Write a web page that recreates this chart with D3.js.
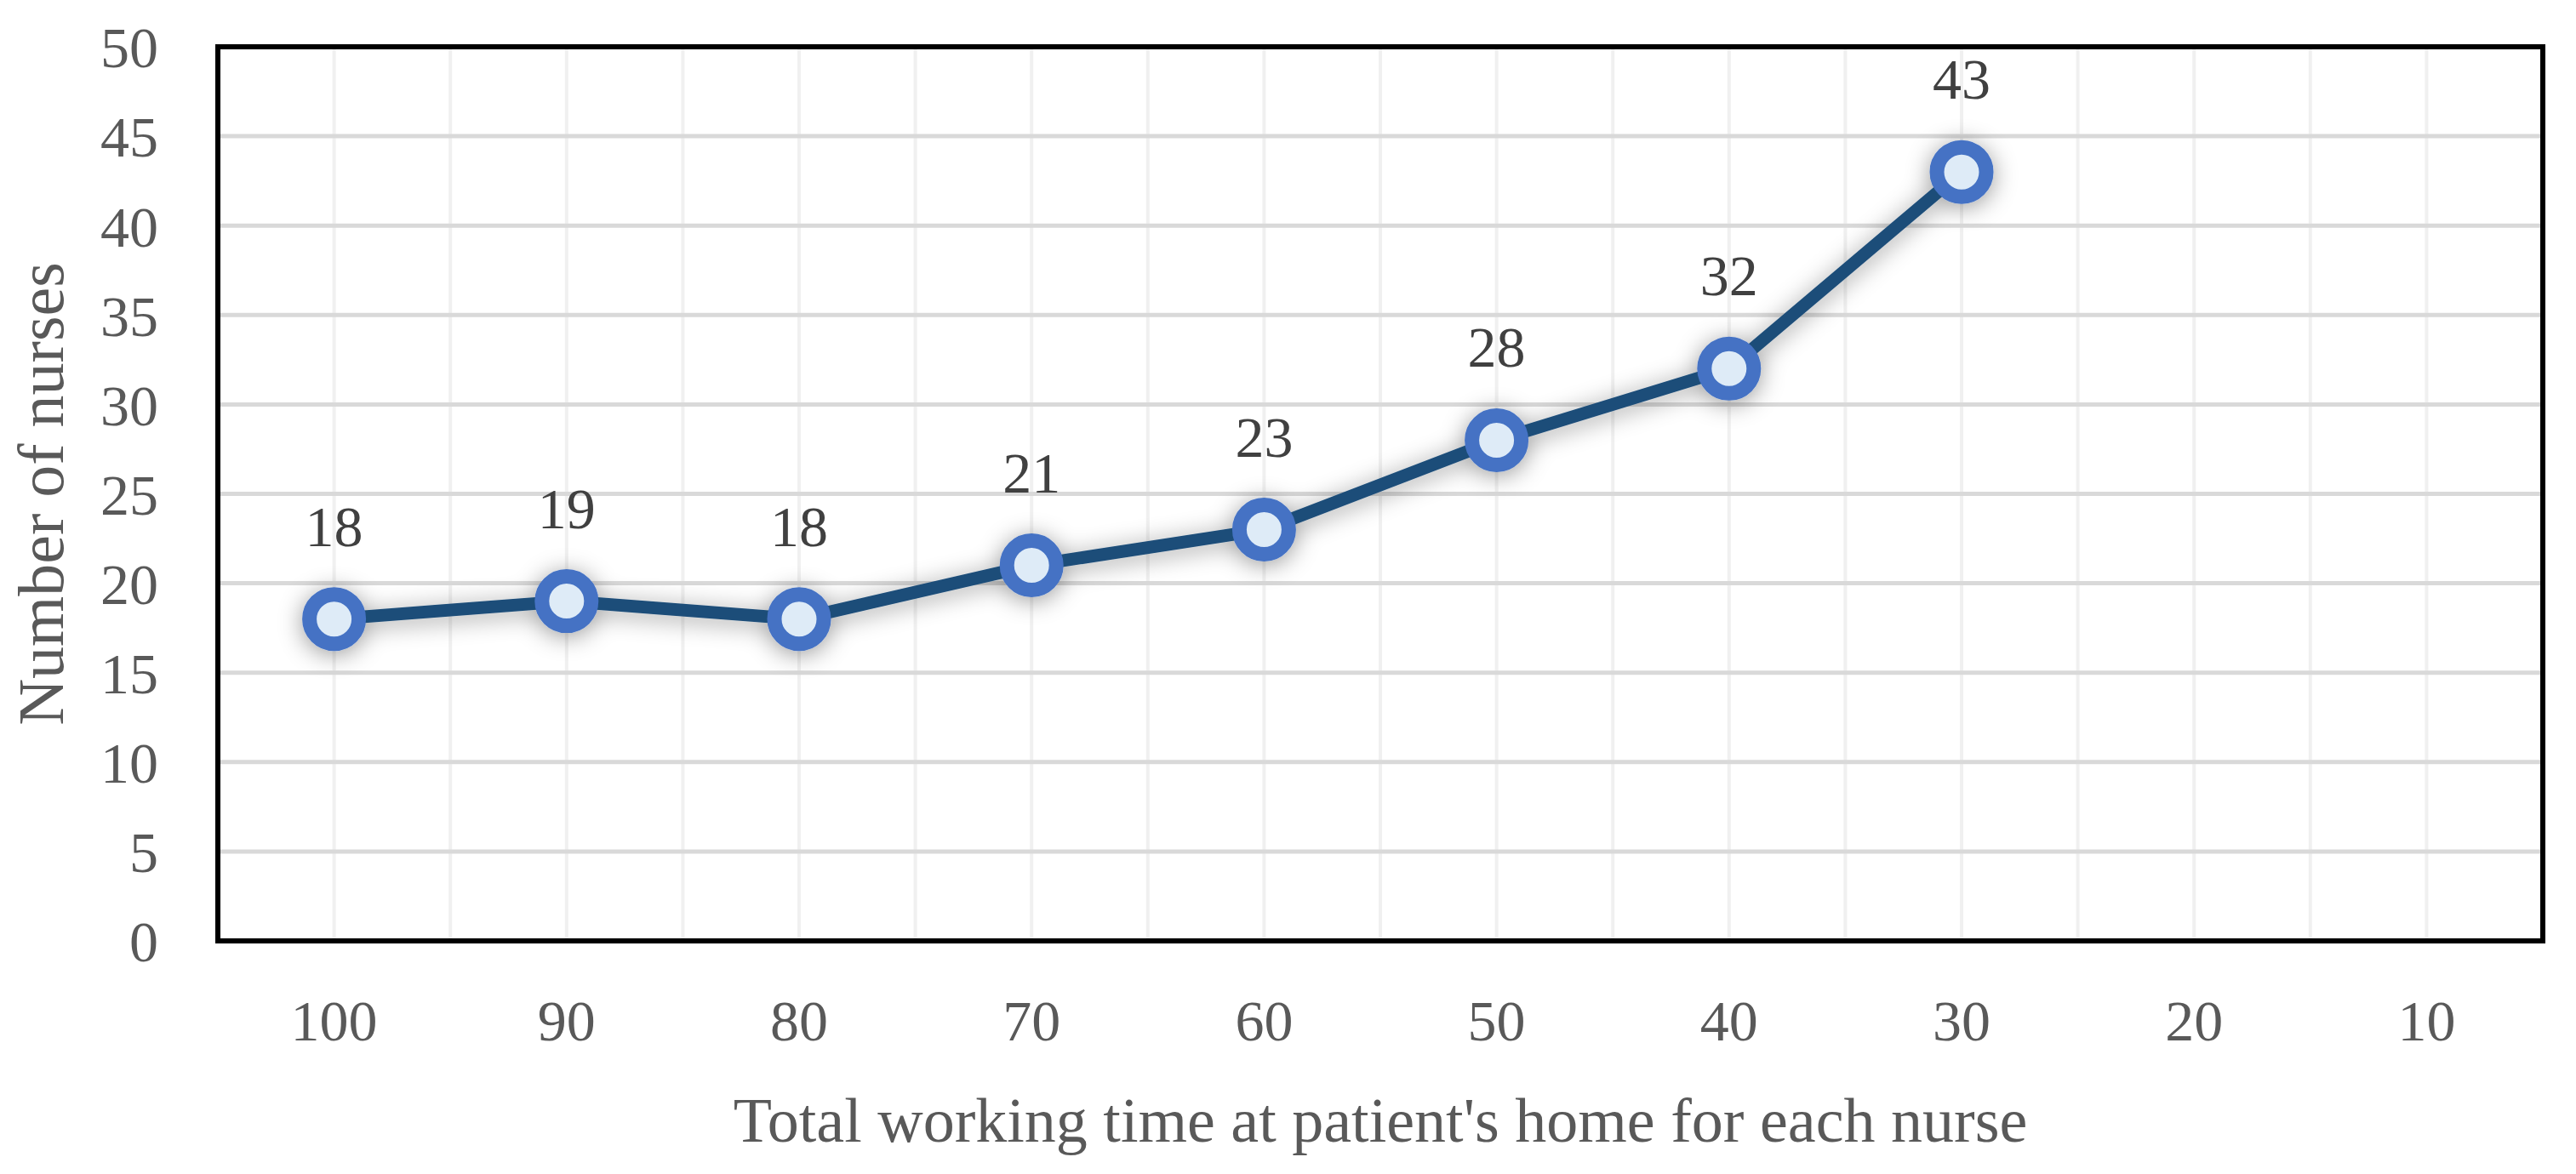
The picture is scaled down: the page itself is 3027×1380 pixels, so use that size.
<!DOCTYPE html>
<html>
<head>
<meta charset="utf-8">
<script src="https://cdn.jsdelivr.net/npm/d3@7"></script>
<style>
  html, body { margin: 0; padding: 0; background: #ffffff; }
  svg { display: block; }
  text { font-family: "Palatino Linotype", "Book Antiqua", Palatino, "Liberation Serif", serif; }
</style>
</head>
<body>
<svg id="chart" width="3027" height="1380"></svg>
<script>
// ---- data ----
const categories = ["100", "90", "80", "70", "60", "50", "40", "30", "20", "10"];
const nurses = [18, 19, 18, 21, 23, 28, 32, 43, null, null];
const yTicks = [0, 5, 10, 15, 20, 25, 30, 35, 40, 45, 50];
const xTitle = "Total working time at patient's home for each nurse";
const yTitle = "Number of nurses";

// ---- layout ----
const W = 3027, H = 1380;
const plot = { left: 256, right: 2988, top: 55, bottom: 1106 };
const fontSize = 68;

const svg = d3.select("#chart");

const x = d3.scaleBand().domain(categories).range([plot.left, plot.right]).paddingInner(0).paddingOuter(0);
const y = d3.scaleLinear().domain([0, 50]).range([plot.bottom, plot.top]);

// shadow filter
const defs = svg.append("defs");
const f = defs.append("filter").attr("id", "shadow")
  .attr("x", "-20%").attr("y", "-40%").attr("width", "140%").attr("height", "180%");
f.append("feDropShadow").attr("dx", 0).attr("dy", 4).attr("stdDeviation", 14)
  .attr("flood-color", "#000").attr("flood-opacity", 0.4);

// plot background
svg.append("rect").attr("x", plot.left).attr("y", plot.top)
  .attr("width", plot.right - plot.left).attr("height", plot.bottom - plot.top)
  .attr("fill", "#ffffff");

// vertical gridlines at band centers and boundaries
const vPositions = [];
categories.forEach((c, i) => {
  vPositions.push(x(c) + x.bandwidth() / 2);
  if (i > 0) vPositions.push(x(c));
});
svg.append("g").selectAll("line").data(vPositions).join("line")
  .attr("x1", d => d).attr("x2", d => d)
  .attr("y1", plot.top).attr("y2", plot.bottom)
  .attr("stroke", "#f0f0f0").attr("stroke-width", 4);

// horizontal gridlines
svg.append("g").selectAll("line").data(yTicks.filter(t => t > 0 && t < 50)).join("line")
  .attr("x1", plot.left).attr("x2", plot.right)
  .attr("y1", d => y(d)).attr("y2", d => y(d))
  .attr("stroke", "#d9d9d9").attr("stroke-width", 5);

// y axis ticks
const yAxis = d3.axisLeft(y).tickValues(yTicks).tickSize(0).tickPadding(0);
const gy = svg.append("g").attr("transform", `translate(${plot.left - 70},0)`).call(yAxis);
gy.select(".domain").remove();
gy.selectAll("text").attr("font-size", fontSize).attr("fill", "#595959").attr("dy", "0.35em");
gy.attr("font-family", null);

// x axis ticks
const xAxis = d3.axisBottom(x).tickSize(0).tickPadding(0);
const gx = svg.append("g").attr("transform", `translate(0,${plot.bottom + 117})`).call(xAxis);
gx.select(".domain").remove();
gx.selectAll("text").attr("font-size", fontSize).attr("fill", "#595959").attr("dy", 0);
gx.attr("font-family", null);

// series
const pts = categories.map((c, i) => ({ c, v: nurses[i] })).filter(d => d.v != null);
const line = d3.line().x(d => x(d.c) + x.bandwidth() / 2).y(d => y(d.v));

const series = svg.append("g").attr("filter", "url(#shadow)");
series.append("path").datum(pts).attr("d", line)
  .attr("fill", "none").attr("stroke", "#1f4e79").attr("stroke-width", 15)
  .attr("stroke-linejoin", "round");
series.selectAll("circle").data(pts).join("circle")
  .attr("cx", d => x(d.c) + x.bandwidth() / 2).attr("cy", d => y(d.v))
  .attr("r", 29).attr("fill", "#deebf7").attr("stroke", "#4472c4").attr("stroke-width", 17);

// data labels
svg.append("g").selectAll("text").data(pts).join("text")
  .attr("x", d => x(d.c) + x.bandwidth() / 2).attr("y", d => y(d.v) - 86)
  .attr("text-anchor", "middle").attr("font-size", fontSize).attr("fill", "#404040")
  .text(d => d.v);

// plot frame
svg.append("rect").attr("x", plot.left).attr("y", plot.top)
  .attr("width", plot.right - plot.left).attr("height", plot.bottom - plot.top)
  .attr("fill", "none").attr("stroke", "#000").attr("stroke-width", 6);

// axis titles
svg.append("text").attr("x", (plot.left + plot.right) / 2).attr("y", 1342)
  .attr("text-anchor", "middle").attr("font-size", 74).attr("fill", "#595959")
  .text(xTitle);
svg.append("text").attr("transform", `translate(74,${(plot.top + plot.bottom) / 2}) rotate(-90)`)
  .attr("text-anchor", "middle").attr("font-size", 76).attr("fill", "#595959")
  .text(yTitle);
</script>
</body>
</html>
